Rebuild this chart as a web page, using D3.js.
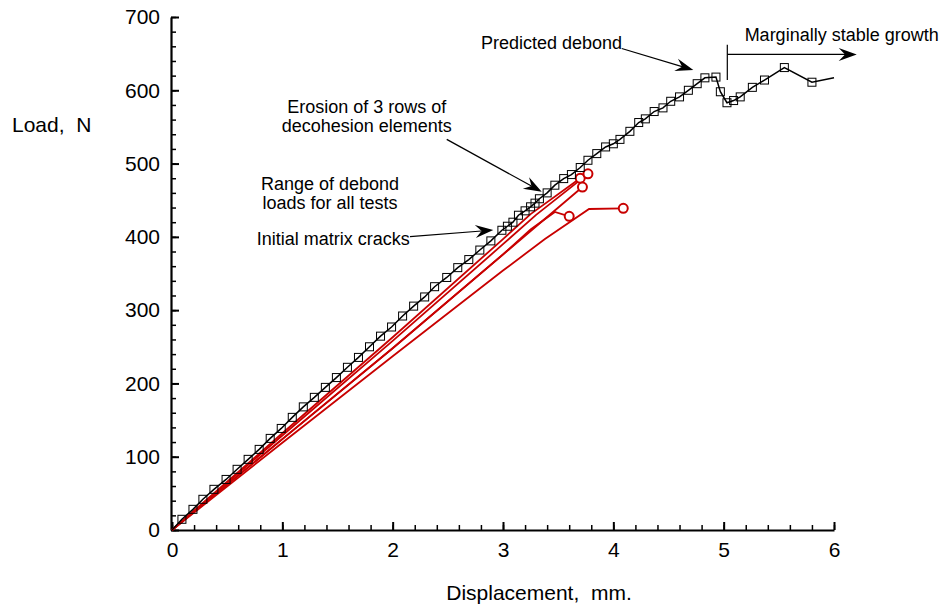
<!DOCTYPE html>
<html>
<head>
<meta charset="utf-8">
<script src="https://cdn.jsdelivr.net/npm/d3@7"></script>
<style>
  body { margin: 0; background: #fff; }
  svg text { font-family: "Liberation Sans", Arial, sans-serif; fill: #000; white-space: pre; }
</style>
</head>
<body>
<svg id="chart" width="943" height="607"></svg>
<script>
const xTicks = [0, 1, 2, 3, 4, 5, 6];
const yTicks = [0, 100, 200, 300, 400, 500, 600, 700];

// analysis curve (displacement mm, load N)
const modelDisp = [0, 0.09, 0.19, 0.28, 0.38, 0.49, 0.59, 0.69, 0.79, 0.89, 0.99, 1.09, 1.19, 1.29, 1.39, 1.49,
  1.59, 1.69, 1.79, 1.89, 1.99, 2.09, 2.19, 2.29, 2.38, 2.49, 2.59, 2.69, 2.79, 2.89, 2.99, 3.04, 3.09, 3.14,
  3.20, 3.25, 3.29, 3.33, 3.40, 3.47, 3.55, 3.62, 3.70, 3.77, 3.85, 3.93, 4.00, 4.06, 4.15, 4.23, 4.29, 4.37,
  4.45, 4.52, 4.60, 4.68, 4.76, 4.83, 4.93, 4.97, 5.03, 5.09, 5.15, 5.26, 5.37, 5.55, 5.80, 6.00];
const modelLoad = [0, 14.6, 28.2, 41.9, 55.5, 69, 82.8, 96.4, 110, 125, 138.6, 153.7, 168, 181, 194.6, 208,
  222, 235.5, 250, 264.5, 277, 292, 305.5, 318, 332, 344.6, 358, 369, 382, 394.5, 409, 414.5, 420, 429.5,
  435.5, 441, 446, 452, 460, 470.5, 479.5, 485, 494.6, 504.5, 513.6, 522.7, 527, 533, 544, 556, 561, 571,
  576, 585, 591, 600, 609, 617, 618, 598, 583, 586, 591, 604, 614, 631, 611, 617];

// test curves, last point is the debond
const test1 = [[0, 0], [1, 132], [2, 263], [3, 397], [3.25, 431], [3.70, 480]];
const test2 = [[0, 0], [1, 129], [2, 258], [3, 390], [3.3, 430], [3.77, 486]];
const test3 = [[0, 0], [1, 124], [2, 248], [3, 376], [3.72, 468]];
const test4 = [[0, 0], [1, 124], [2, 248], [3, 376], [3.25, 410], [3.47, 434], [3.60, 428]];
const test5 = [[0, 0], [1, 119], [2, 237], [3, 354], [3.38, 397], [3.78, 438], [4.09, 439]];
const tests = [test1, test2, test3, test4, test5];

// annotations in data units
const labels = [
  {text: "Predicted debond", x: 2.80, y: 656, anchor: "start"},
  {text: "Marginally stable growth", x: 5.19, y: 667, anchor: "start"},
  {text: "Erosion of 3 rows of", x: 1.765, y: 569, anchor: "middle"},
  {text: "decohesion elements", x: 1.765, y: 543, anchor: "middle"},
  {text: "Range of debond", x: 1.432, y: 464, anchor: "middle"},
  {text: "loads for all tests", x: 1.432, y: 437.5, anchor: "middle"},
  {text: "Initial matrix cracks", x: 0.768, y: 389, anchor: "start"},
];
const arrows = [
  {from: [4.076, 657], to: [4.725, 627.6]},
  {from: [5.033, 649], to: [6.206, 649]},
  {from: [2.49, 533], to: [3.351, 461.6]},
  {from: [2.157, 400.2], to: [2.912, 409.3]},
];
const growthMark = [[5.033, 662], [5.033, 614]];

const svg = d3.select("#chart");
const x = d3.scaleLinear().domain([0, 6]).range([172, 834]);
const y = d3.scaleLinear().domain([0, 700]).range([530, 17]);

// minor ticks
svg.append("g")
  .attr("transform", "translate(0,530)")
  .call(d3.axisBottom(x).tickValues(d3.range(0, 31).map(i => i * 0.2)).tickSize(-5).tickFormat(""))
  .call(g => g.select(".domain").remove())
  .selectAll("line").attr("stroke-width", 1.5);
svg.append("g")
  .attr("transform", "translate(171,0)")
  .call(d3.axisLeft(y).tickValues(d3.range(0, 36).map(i => i * 20)).tickSize(-5).tickFormat(""))
  .call(g => g.select(".domain").remove())
  .selectAll("line").attr("stroke-width", 1.5);

const xAxis = svg.append("g")
  .attr("transform", "translate(0,530)")
  .call(d3.axisBottom(x).tickValues(xTicks).tickFormat(d3.format("d"))
    .tickSize(-8).tickSizeOuter(0).tickPadding(12));
const yAxis = svg.append("g")
  .attr("transform", "translate(171,0)")
  .call(d3.axisLeft(y).tickValues(yTicks).tickFormat(d3.format("d"))
    .tickSize(-8).tickSizeOuter(0).tickPadding(11));

[xAxis, yAxis].forEach(a => {
  a.select(".domain").attr("stroke-width", 2.2);
  a.selectAll(".tick line").attr("stroke-width", 2);
  a.selectAll(".tick text").attr("font-size", 21).attr("font-family", "Liberation Sans, Arial, sans-serif");
});

svg.append("text").attr("x", 12).attr("y", 132).attr("font-size", 21).text("Load,  N");
svg.append("text").attr("x", 539).attr("y", 600).attr("font-size", 21)
  .attr("text-anchor", "middle").text("Displacement,  mm.");

// test curves
const line = d3.line().x(d => x(d[0])).y(d => y(d[1]));
tests.forEach(t => {
  svg.append("path")
    .attr("d", line(t))
    .attr("fill", "none")
    .attr("stroke", "#c80000")
    .attr("stroke-width", 1.8);
});
svg.selectAll(".debond").data(tests.map(t => t[t.length - 1]))
  .enter().append("circle")
  .classed("debond", true)
  .attr("cx", d => x(d[0]))
  .attr("cy", d => y(d[1]))
  .attr("r", 4.5)
  .attr("fill", "#fff")
  .attr("stroke", "#c80000")
  .attr("stroke-width", 2);

// analysis
const model = modelDisp.map((d, i) => [d, modelLoad[i]]);
svg.append("path")
  .attr("d", line(model))
  .attr("fill", "none")
  .attr("stroke", "#000")
  .attr("stroke-width", 1.5);
svg.selectAll(".sq").data(model.slice(1, -1))
  .enter().append("rect")
  .classed("sq", true)
  .attr("x", d => x(d[0]) - 4)
  .attr("y", d => y(d[1]) - 4)
  .attr("width", 8)
  .attr("height", 8)
  .attr("fill", "none")
  .attr("stroke", "#000")
  .attr("stroke-width", 1);

// annotations
svg.selectAll(".lbl").data(labels)
  .enter().append("text")
  .classed("lbl", true)
  .attr("x", d => x(d.x))
  .attr("y", d => y(d.y))
  .attr("text-anchor", d => d.anchor)
  .attr("font-size", 18)
  .text(d => d.text);

svg.append("path")
  .attr("d", line(growthMark))
  .attr("stroke", "#000")
  .attr("stroke-width", 1.2);

arrows.forEach(a => {
  const x1 = x(a.from[0]), y1 = y(a.from[1]);
  const x2 = x(a.to[0]), y2 = y(a.to[1]);
  const ang = Math.atan2(y2 - y1, x2 - x1);
  const len = 18, wid = 6.5;
  const ux = Math.cos(ang), uy = Math.sin(ang);
  const bx = x2 - ux * len, by = y2 - uy * len;
  const nx = x2 - ux * len * 0.65, ny = y2 - uy * len * 0.65;
  svg.append("line")
    .attr("x1", x1).attr("y1", y1)
    .attr("x2", nx).attr("y2", ny)
    .attr("stroke", "#000")
    .attr("stroke-width", 1.2);
  svg.append("path")
    .attr("d", `M${x2},${y2}L${bx - uy * wid},${by + ux * wid}L${nx},${ny}L${bx + uy * wid},${by - ux * wid}Z`)
    .attr("fill", "#000");
});
</script>
</body>
</html>
